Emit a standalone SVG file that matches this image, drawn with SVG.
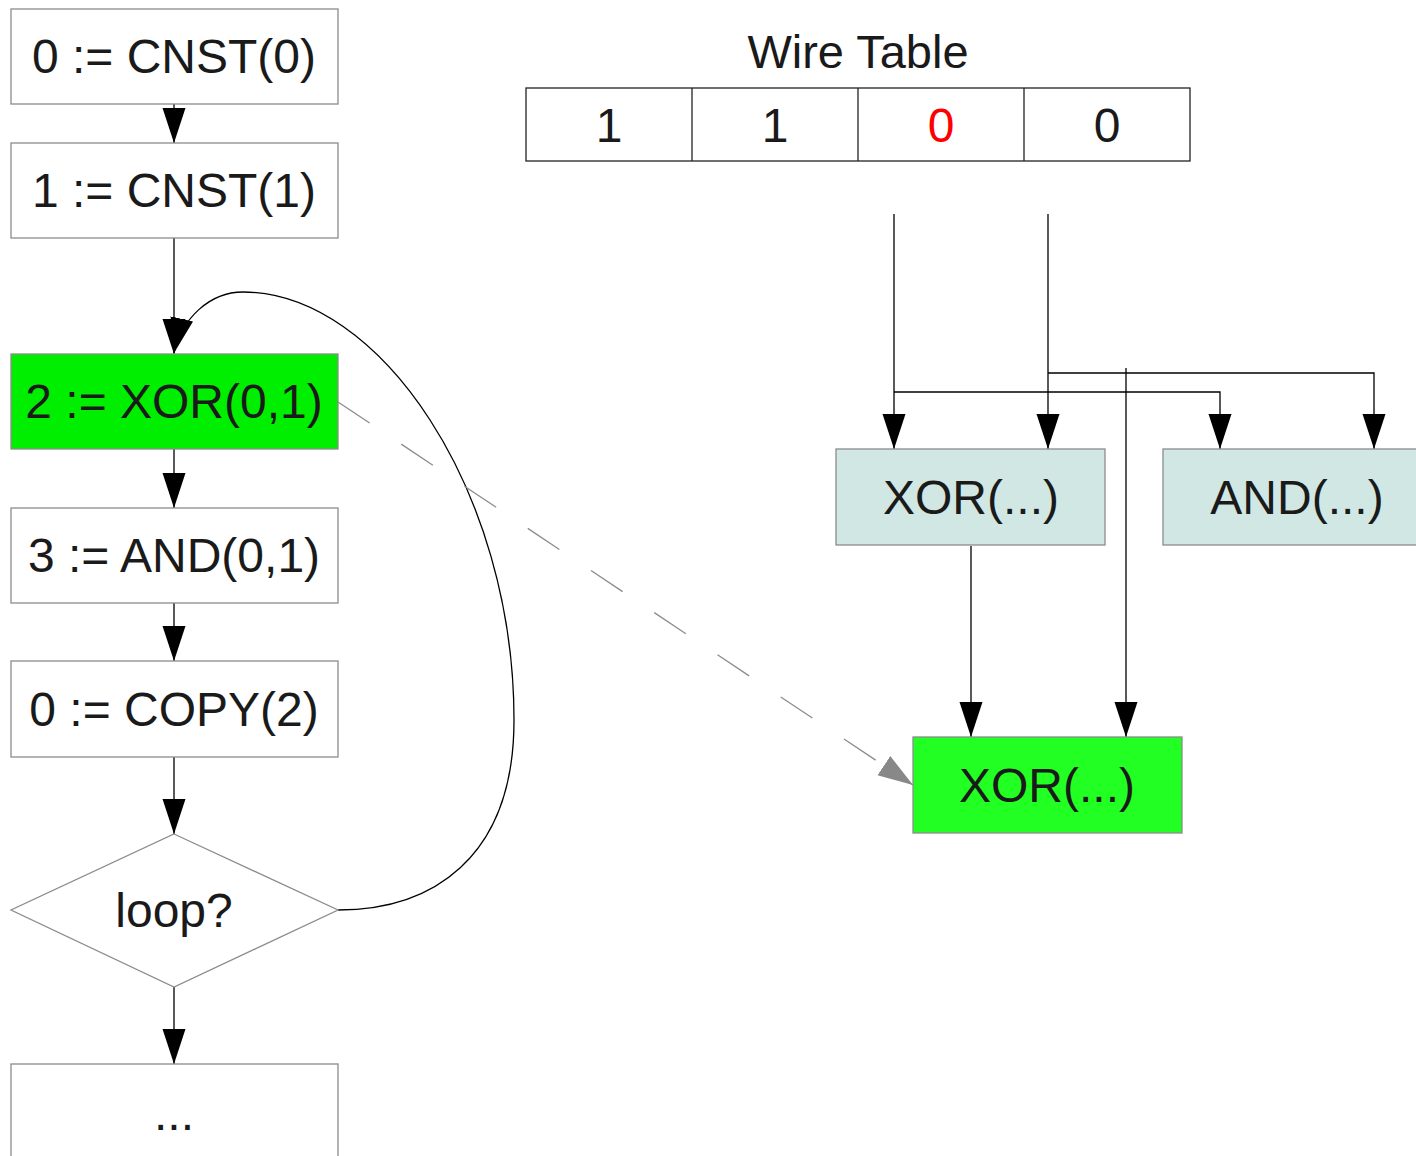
<svg xmlns="http://www.w3.org/2000/svg" width="1416" height="1156" viewBox="0 0 1416 1156">
<defs>
<style>
.box{stroke:#8c8c8c;stroke-width:1.3}
.w{fill:#ffffff}
.g1{fill:#00ee00}
.g2{fill:#22ff22}
.t{fill:#d0e7e4}
.lbl{font-family:"Liberation Sans",Arial,sans-serif;font-size:48px;fill:#1a1a1a;text-anchor:middle}
.edge{fill:none;stroke:#000;stroke-width:1.3}
.dash{fill:none;stroke:#8c8c8c;stroke-width:1.3;stroke-dasharray:38 38}
</style>
<marker id="ah" markerUnits="userSpaceOnUse" markerWidth="36" markerHeight="24" refX="35" refY="11.5" orient="auto">
<path d="M0,0 L35,11.5 L0,23 z" fill="#000"/>
</marker>
<marker id="ahg" markerUnits="userSpaceOnUse" markerWidth="36" markerHeight="24" refX="35" refY="11.5" orient="auto">
<path d="M0,0 L35,11.5 L0,23 z" fill="#888"/>
</marker>
</defs>
<rect width="1416" height="1156" fill="#fff"/>

<g id="connectors">
<line class="edge" x1="174" y1="104" x2="174" y2="143" marker-end="url(#ah)"/>
<line class="edge" x1="174" y1="238" x2="174" y2="354" marker-end="url(#ah)"/>
<line class="edge" x1="174" y1="449" x2="174" y2="508" marker-end="url(#ah)"/>
<line class="edge" x1="174" y1="603" x2="174" y2="661" marker-end="url(#ah)"/>
<line class="edge" x1="174" y1="757" x2="174" y2="834" marker-end="url(#ah)"/>
<line class="edge" x1="174" y1="987" x2="174" y2="1064" marker-end="url(#ah)"/>
<path class="edge" d="M338,910 C430,910 514,860 514,720 C514,490 380,292 243,292 C210,292 182,318 174,353" marker-end="url(#ah)"/>
<path class="dash" d="M338,402 L913,785" marker-end="url(#ahg)"/>
<line class="edge" x1="894" y1="214" x2="894" y2="449" marker-end="url(#ah)"/>
<line class="edge" x1="1048" y1="214" x2="1048" y2="449" marker-end="url(#ah)"/>
<path class="edge" d="M894,392 H1220 V449" stroke="#444" marker-end="url(#ah)"/>
<path class="edge" d="M1048,373 H1374 V449" stroke="#444" marker-end="url(#ah)"/>
<line class="edge" x1="1126" y1="368" x2="1126" y2="737" marker-end="url(#ah)"/>
<line class="edge" x1="971" y1="546" x2="971" y2="737" marker-end="url(#ah)"/>
</g>

<g id="n0"><rect class="box w" x="11" y="9" width="327" height="95"/><text class="lbl" x="174" y="73">0 := CNST(0)</text></g>
<g id="n1"><rect class="box w" x="11" y="143" width="327" height="95"/><text class="lbl" x="174" y="207">1 := CNST(1)</text></g>
<g id="n2"><rect class="box g1" x="11" y="354" width="327" height="95"/><text class="lbl" x="174" y="418">2 := XOR(0,1)</text></g>
<g id="n3"><rect class="box w" x="11" y="508" width="327" height="95"/><text class="lbl" x="174" y="572">3 := AND(0,1)</text></g>
<g id="n4"><rect class="box w" x="11" y="661" width="327" height="96"/><text class="lbl" x="174" y="726">0 := COPY(2)</text></g>
<g id="n5"><polygon class="box w" points="174,834 338,910 174,987 11,910"/><text class="lbl" x="174" y="927">loop?</text></g>
<g id="n6"><rect class="box w" x="11" y="1064" width="327" height="100"/><text class="lbl" x="174" y="1130">...</text></g>

<g id="wiretable">
<text class="lbl" x="858" y="68" style="font-size:47px">Wire Table</text>
<rect x="526" y="88" width="664" height="73" fill="#fff" stroke="#222" stroke-width="1.3"/>
<line x1="692" y1="88" x2="692" y2="161" stroke="#222" stroke-width="1.3"/>
<line x1="858" y1="88" x2="858" y2="161" stroke="#222" stroke-width="1.3"/>
<line x1="1024" y1="88" x2="1024" y2="161" stroke="#222" stroke-width="1.3"/>
<text class="lbl" x="609" y="142">1</text>
<text class="lbl" x="775" y="142">1</text>
<text class="lbl" x="941" y="142" style="fill:#ff0000">0</text>
<text class="lbl" x="1107" y="142">0</text>
</g>

<g id="xor1"><rect class="box t" x="836" y="449" width="269" height="96"/><text class="lbl" x="971" y="514">XOR(...)</text></g>
<g id="and1"><rect class="box t" x="1163" y="449" width="260" height="96"/><text class="lbl" x="1297" y="514">AND(...)</text></g>
<g id="xor2"><rect class="box g2" x="913" y="737" width="269" height="96"/><text class="lbl" x="1047" y="802">XOR(...)</text></g>
</svg>
